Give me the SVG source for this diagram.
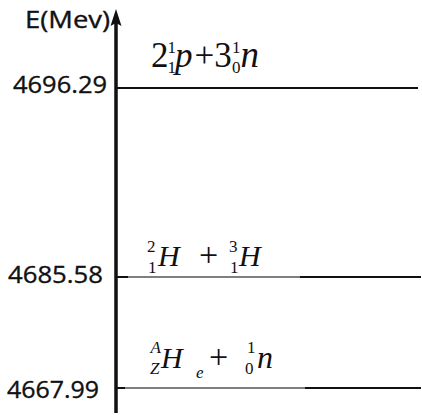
<svg xmlns="http://www.w3.org/2000/svg" width="422" height="416" viewBox="0 0 422 416">
<style>
.lbl{font-family:"Open Sans","Liberation Sans",sans-serif;font-size:23px;fill:#111;stroke:#111;stroke-width:0.35}
.m{font-family:"Liberation Serif","Times New Roman",serif;fill:#111}
.i{font-style:italic}
.lvl{stroke:#111;stroke-width:2;fill:none}
.lt{stroke:#555;stroke-width:1.5;fill:none}
</style>
<rect width="422" height="416" fill="#fff"/>
<g id="axis">
<line x1="116" y1="22" x2="116" y2="413" stroke="#111" stroke-width="3.5"/>
<polygon points="116,9 110.5,26 116,23 121.5,26" fill="#111"/>
<text class="lbl" x="25" y="28" textLength="85" lengthAdjust="spacingAndGlyphs">E(Mev)</text>
</g>
<g id="connectors">
<line class="lvl" x1="116" y1="88" x2="285" y2="88" stroke-width="2.5"/>
<line class="lvl" x1="285" y1="88" x2="418" y2="88"/>
<line class="lvl" x1="116" y1="277" x2="128" y2="277" stroke-width="2.5"/>
<line class="lt" x1="128" y1="277" x2="300" y2="277"/>
<line class="lvl" x1="300" y1="277" x2="421" y2="277"/>
<line class="lvl" x1="116" y1="388" x2="125" y2="388" stroke-width="2.5"/>
<line class="lt" x1="125" y1="388" x2="305" y2="388"/>
<line class="lvl" x1="305" y1="388" x2="421" y2="388"/>
</g>
<g id="level1">
<text class="lbl" x="13" y="93" textLength="94" lengthAdjust="spacingAndGlyphs">4696.29</text>
<text class="m" font-size="35"><tspan x="151" y="67">2</tspan><tspan class="i" x="175" y="67">p</tspan><tspan x="194.5" y="67">+3</tspan><tspan class="i" x="240.5" y="67" font-size="37">n</tspan></text>
<text class="m" font-size="17"><tspan x="167.5" y="53">1</tspan><tspan x="167.5" y="73">1</tspan><tspan x="232" y="53">1</tspan><tspan x="232" y="73">0</tspan></text>
</g>
<g id="level2">
<text class="lbl" x="8" y="283" textLength="95" lengthAdjust="spacingAndGlyphs">4685.58</text>
<text class="m" font-size="17"><tspan x="147" y="252">2</tspan><tspan x="148" y="273">1</tspan><tspan x="229" y="252">3</tspan><tspan x="230" y="273">1</tspan></text>
<text class="m" font-size="30"><tspan class="i" x="158" y="266">H</tspan><tspan x="199" y="266" font-size="34">+</tspan><tspan class="i" x="239" y="266">H</tspan></text>
</g>
<g id="level3">
<text class="lbl" x="7" y="398" textLength="92" lengthAdjust="spacingAndGlyphs">4667.99</text>
<text class="m i" font-size="17"><tspan x="150.5" y="353">A</tspan><tspan x="150" y="374">Z</tspan><tspan x="196" y="378">e</tspan></text>
<text class="m" font-size="17"><tspan x="247" y="353">1</tspan><tspan x="245" y="374">0</tspan></text>
<text class="m" font-size="30"><tspan class="i" x="161" y="368">H</tspan><tspan x="209" y="368" font-size="34">+</tspan><tspan class="i" x="257" y="368" font-size="32">n</tspan></text>
</g>
</svg>
